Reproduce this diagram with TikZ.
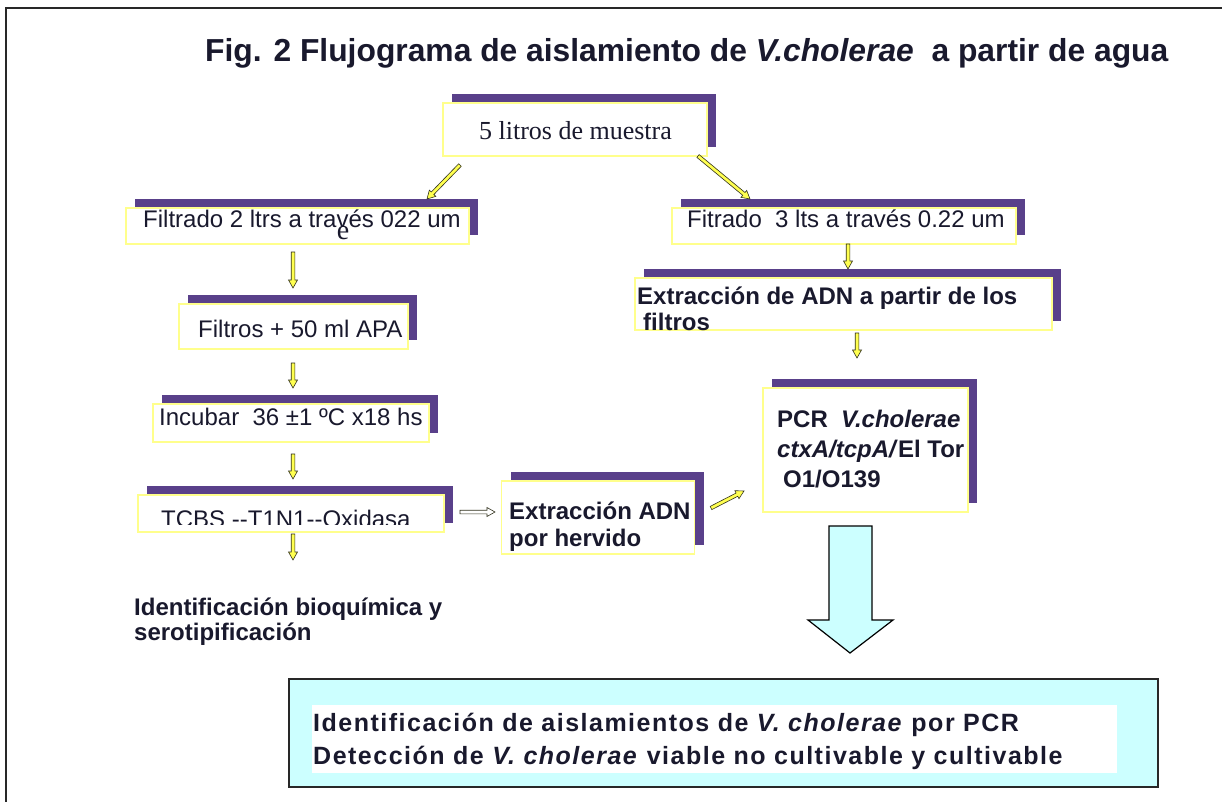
\documentclass[tikz,border=0pt]{standalone}
\usepackage{fontspec}
\setmainfont{Liberation Sans}
\newfontfamily\tnr{Liberation Serif}
\newfontfamily\spaced[LetterSpace=6]{Liberation Sans}
\usetikzlibrary{calc}
\definecolor{purp}{RGB}{89,64,138}
\definecolor{ybord}{RGB}{255,255,140}
\definecolor{txt}{RGB}{25,25,45}
\definecolor{arrfill}{RGB}{255,255,80}
\definecolor{arrline}{RGB}{50,50,30}
\definecolor{cyanfill}{RGB}{204,255,255}
\definecolor{framecol}{RGB}{40,40,40}
\tikzset{
  box/.style={draw=ybord, line width=1.2pt, fill=white, inner sep=0pt, outer sep=0pt, anchor=north west,
    preaction={fill=purp, transform canvas={xshift=9pt,yshift=9pt}}},
  lbl/.style={anchor=base west, inner sep=0pt, text=txt, font=\fontsize{24}{28}\selectfont},
  blbl/.style={lbl, font=\bfseries\fontsize{24}{28}\selectfont},
  reslbl/.style={anchor=base west, inner sep=0pt, text=txt, font=\spaced\bfseries\fontsize{25}{29}\selectfont},
}
\newcommand\barrow[3][arrfill]{%
  \coordinate (bhead) at ($(#3)!8pt!(#2)$);
  \filldraw[draw=arrline, fill=#1, line width=0.6pt, line join=miter]
    ($(#2)!1.8pt!90:(#3)$) -- ($(bhead)!1.8pt!90:(#3)$) -- ($(bhead)!4.5pt!90:(#3)$) -- (#3)
    -- ($(bhead)!4.5pt!-90:(#3)$) -- ($(bhead)!1.8pt!-90:(#3)$) -- ($(#2)!1.8pt!-90:(#3)$) -- cycle;}
\begin{document}
\begin{tikzpicture}[x=1pt,y=-1pt]
\useasboundingbox (0,0) rectangle (1222,802);
\fill[white] (0,0) rectangle (1222,802);
% frame
\draw[framecol, line width=2pt] (6,802) -- (6,8) -- (1222,8);
% title
\node[anchor=base west, inner sep=0pt, text=txt, font=\bfseries\fontsize{31.8}{36}\selectfont] (title) at (205,62)
  {Fig. 2 Flujograma de aislamiento de \textit{V.cholerae}\ \ a partir de agua};
% boxes
\node[box, minimum width=264pt, minimum height=53pt] (b1) at (443,103) {};
\node[anchor=base, inner sep=0pt, text=txt, font=\tnr\fontsize{26}{30}\selectfont] (t1) at (575.5,140) {5 litros de muestra};

\node[box, minimum width=343pt, minimum height=36pt] (l2) at (126,208) {};
\node[lbl] (tl2) at (143,228) {Filtrado 2 ltrs a través 022 um};
\node[anchor=base, inner sep=0pt, text=txt, font=\tnr\fontsize{28}{32}\selectfont] (eart) at (343,240) {e};

\node[box, minimum width=344pt, minimum height=36pt] (r2) at (672,208) {};
\node[lbl] (tr2) at (687,228) {Fitrado\ \ 3 lts a través 0.22 um};

\node[box, minimum width=229pt, minimum height=45pt] (l3) at (179,304) {};
\node[lbl] (tl3) at (198,337) {Filtros + 50 ml APA};

\node[box, minimum width=417pt, minimum height=52pt] (r3) at (635,278) {};
\node[blbl] (tr3a) at (637,304) {Extracción de ADN a partir de los};
\node[blbl] (tr3b) at (643,330) {filtros};

\node[box, minimum width=276pt, minimum height=38pt] (l4) at (153,404) {};
\node[lbl] (tl4) at (159,425) {Incubar\ \ 36 ±1 ºC x18 hs};

\node[box, minimum width=306pt, minimum height=37pt] (l5) at (138,495) {};
\begin{scope}
  \clip (138,495) rectangle (444,524);
  \node[lbl] (tl5) at (161,527) {TCBS {-}{-}T1N1{-}{-}Oxidasa};
\end{scope}

\node[box, minimum width=193pt, minimum height=73pt] (ex) at (501.5,481) {};
\node[blbl] (tex1) at (509,519) {Extracción ADN};
\node[blbl] (tex2) at (509,546) {por hervido};

\node[box, minimum width=205pt, minimum height=124pt] (pcr) at (763,388) {};
\node[blbl] (tp1) at (777,427) {PCR\ \ \textit{V.cholerae}};
\node[blbl] (tp2) at (777,457) {\textit{ctxA/tcpA/}El Tor};
\node[blbl] (tp3) at (783,487) {O1/O139};

\node[blbl] (id1) at (134,615) {Identificación bioquímica y};
\node[blbl] (id2) at (134,640) {serotipificación};

% small arrows
\coordinate (a1s) at (460,165); \coordinate (a1e) at (427,199);
\coordinate (a2s) at (698,156); \coordinate (a2e) at (750,199);
\coordinate (a3s) at (293,252); \coordinate (a3e) at (293,288);
\coordinate (a4s) at (848,244); \coordinate (a4e) at (848,269);
\coordinate (a5s) at (293,363); \coordinate (a5e) at (293,388);
\coordinate (a6s) at (857,333); \coordinate (a6e) at (857,358);
\coordinate (a7s) at (293,454); \coordinate (a7e) at (293,479);
\coordinate (a8s) at (293,534); \coordinate (a8e) at (293,560);
\coordinate (a9s) at (460,512); \coordinate (a9e) at (495,512);
\coordinate (a10s) at (711,508); \coordinate (a10e) at (744,491);
\barrow{a1s}{a1e}
\barrow{a2s}{a2e}
\barrow{a3s}{a3e}
\barrow{a4s}{a4e}
\barrow{a5s}{a5e}
\barrow{a6s}{a6e}
\barrow{a7s}{a7e}
\barrow{a8s}{a8e}
\barrow[white]{a9s}{a9e}
\barrow{a10s}{a10e}

% big arrow
\filldraw[fill=cyanfill, draw=black, line width=1.2pt, line join=miter]
  (829,526) -- (872,526) -- (872,620) -- (893,620) -- (850,653) -- (808,620) -- (829,620) -- cycle;

% result box
\node[draw=framecol, fill=cyanfill, line width=1.5pt, anchor=north west, inner sep=0pt, outer sep=0pt,
  minimum width=869pt, minimum height=108pt] (res) at (289,679) {};
\fill[white] (312,705) rectangle (1117,773);
\node[reslbl] (r1) at (313,731) {Identificación de aislamientos de \textit{V. cholerae} por PCR};
\node[reslbl] (r2t) at (313,764) {Detección de \textit{V. cholerae} viable no cultivable y cultivable};
\end{tikzpicture}
\end{document}
